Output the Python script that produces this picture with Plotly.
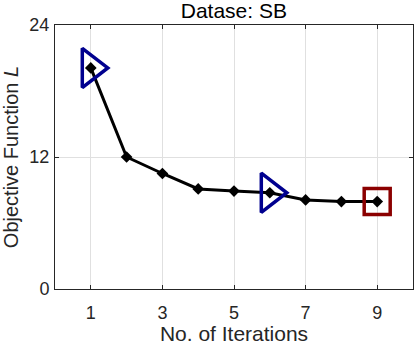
import plotly.graph_objects as go

# данные
iterations = [1, 2, 3, 4, 5, 6, 7, 8, 9]
objective = [20.1, 12.0, 10.5, 9.1, 8.9, 8.75, 8.1, 7.95, 7.95]

tri_x = [1, 6]
tri_y = [20.1, 8.75]
best_x = [9]
best_y = [7.95]

fig = go.Figure()

fig.add_trace(go.Scatter(x=iterations, y=objective, mode="lines+markers",
                         line=dict(color="black", width=3),
                         marker=dict(symbol="diamond", size=9, color="black"),
                         showlegend=False))

fig.add_trace(go.Scatter(x=tri_x, y=tri_y, mode="markers",
                         marker=dict(symbol="triangle-right-open", size=34,
                                     color="#00008f", line=dict(width=3.5, color="#00008f")),
                         showlegend=False))

fig.add_trace(go.Scatter(x=best_x, y=best_y, mode="markers",
                         marker=dict(symbol="square-open", size=26,
                                     color="#8b0000", line=dict(width=3.5, color="#8b0000")),
                         showlegend=False))

axis_style = dict(showline=True, linecolor="#262626", linewidth=1, mirror="ticks",
                  ticks="inside", ticklen=4, tickcolor="#262626",
                  showgrid=True, gridcolor="#e0e0e0", zeroline=False, automargin=False,
                  tickfont=dict(size=18, color="#262626"))

fig.update_xaxes(range=[0, 10], tickvals=[1, 3, 5, 7, 9], ticklabelstandoff=7,
                 title=dict(text="No. of Iterations", font=dict(size=21, color="#262626"), standoff=6),
                 **axis_style)
fig.update_yaxes(range=[0, 24], tickvals=[0, 12, 24], ticklabelstandoff=1,
                 title=dict(text="Objective Function <i>L</i>", font=dict(size=20, color="#262626"), standoff=8),
                 **axis_style)

fig.update_layout(
    width=415, height=345,
    margin=dict(l=55, r=2, t=25, b=56),
    paper_bgcolor="white", plot_bgcolor="white",
    font=dict(family="Liberation Sans, Arial, sans-serif", color="#262626"),
    title=dict(text="Datase: SB", x=0.5635, xanchor="center", y=0.968, yanchor="middle",
               font=dict(size=21, color="black")),
)

# убираем отступ body, чтобы график встал в угол окна
fig.write_html("out.html", config={"displayModeBar": False},
               post_script="document.body.style.margin='0px';")
